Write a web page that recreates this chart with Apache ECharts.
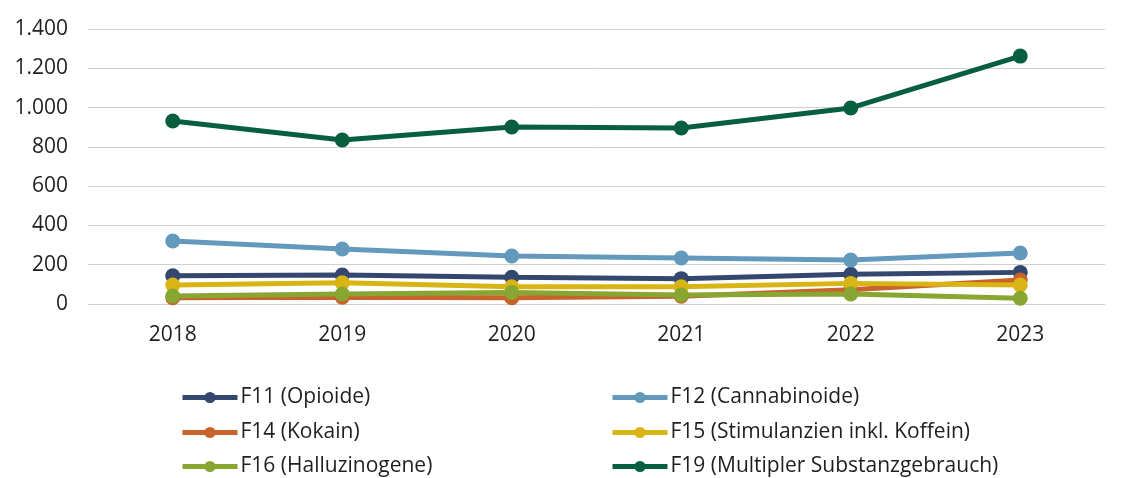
<!DOCTYPE html>
<html>
<head>
<meta charset="utf-8">
<script src="https://cdn.jsdelivr.net/npm/echarts@6/dist/echarts.min.js"></script>
<style>
  html, body { margin: 0; padding: 0; background: #fff; }
  #chart { width: 1123px; height: 478px; }
</style>
</head>
<body>
<div id="chart"></div>
<script>
const years = ['2018', '2019', '2020', '2021', '2022', '2023'];
const f11 = [144, 148, 136, 129, 151, 161];
const f12 = [321, 280, 244, 234, 224, 260];
const f14 = [32, 34, 32, 40, 72, 122];
const f15 = [97, 108, 88, 88, 105, 97];
const f16 = [41, 51, 59, 46, 51, 29];
const f19 = [932, 835, 901, 896, 998, 1262];
const yTicks = [0, 200, 400, 600, 800, 1000, 1200, 1400];

const names = [
  'F11 (Opioide)', 'F12 (Cannabinoide)', 'F14 (Kokain)',
  'F15 (Stimulanzien inkl. Koffein)', 'F16 (Halluzinogene)', 'F19 (Multipler Substanzgebrauch)'
];
const colors = ['#34476e', '#6399bd', '#c8632b', '#d8b515', '#88a632', '#075f3f'];
const values = [f11, f12, f14, f15, f16, f19];

const font = '"Open Sans", "Noto Sans", sans-serif';
const fs = 21;

// legend: two columns, three rows
const legendPos = [[180, 387], [610, 387], [180, 422], [610, 422], [180, 456], [610, 456]];
const legends = names.map((n, i) => ({
  data: [n],
  left: legendPos[i][0],
  top: legendPos[i][1],
  padding: 0,
  itemWidth: 55,
  itemHeight: 14,
  lineStyle: { width: 5 },
  textStyle: { fontFamily: font, fontSize: fs, color: '#1f1f1f', padding: [0, 0, 0, -2] }
}));

const chart = echarts.init(document.getElementById('chart'));
chart.setOption({
  animation: false,
  backgroundColor: '#fff',
  textStyle: { fontFamily: font },
  grid: { left: 88, right: 18, top: 29, bottom: 174, containLabel: false },
  legend: legends,
  xAxis: {
    type: 'category',
    data: years,
    boundaryGap: true,
    axisLine: { show: false },
    axisTick: { show: false },
    axisLabel: { fontFamily: font, fontSize: fs, color: '#1f1f1f', margin: 21 }
  },
  yAxis: {
    type: 'value',
    min: yTicks[0],
    max: yTicks[yTicks.length - 1],
    interval: 200,
    axisLine: { show: false },
    axisTick: { show: false },
    splitLine: { lineStyle: { color: '#d0d0d0', width: 1 } },
    axisLabel: {
      fontFamily: font, fontSize: fs, color: '#1f1f1f', margin: 20,
      formatter: v => String(v).replace(/\B(?=(\d{3})+(?!\d))/g, '.')
    }
  },
  series: names.map((n, i) => ({
    name: n,
    type: 'line',
    data: values[i],
    color: colors[i],
    symbol: 'circle',
    symbolSize: 15,
    lineStyle: { width: 5, color: colors[i] },
    itemStyle: { color: colors[i] }
  }))
});
</script>
</body>
</html>
